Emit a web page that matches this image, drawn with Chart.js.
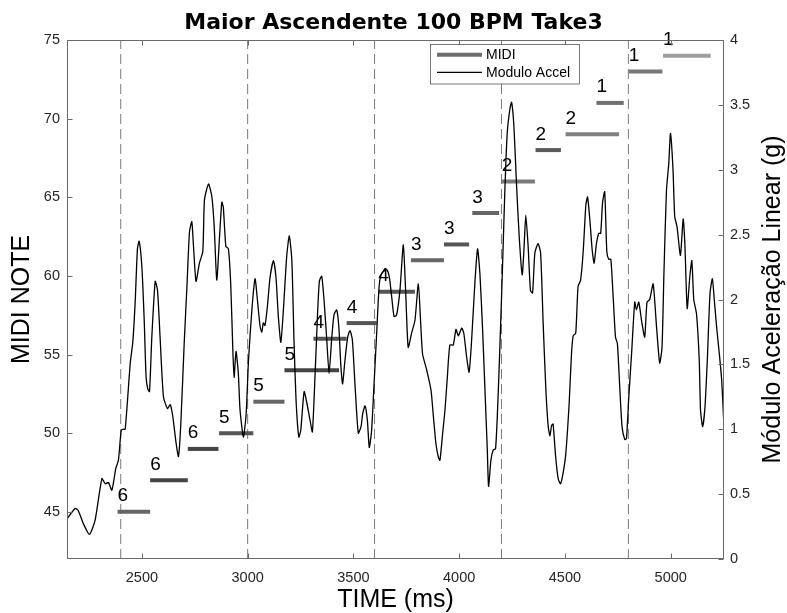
<!DOCTYPE html>
<html><head><meta charset="utf-8">
<script src="https://cdn.jsdelivr.net/npm/chart.js@4/dist/chart.umd.min.js"></script>
<style>html,body{margin:0;padding:0;background:#fff;}canvas{display:block;}</style>
</head><body>
<canvas id="c" width="787" height="613"></canvas>
<script>
const titleText = 'Maior Ascendente 100 BPM Take3';
const xTitle = 'TIME (ms)';
const leftTitle = 'MIDI NOTE';
const rightTitle = 'Módulo Aceleração Linear (g)';
const xTicks = [2500, 3000, 3500, 4000, 4500, 5000];
const midiTicks = [45, 50, 55, 60, 65, 70, 75];
const accelTicks = [0, 0.5, 1, 1.5, 2, 2.5, 3, 3.5, 4];
const beatTimes = [2400, 3000, 3600, 4200, 4800];

const noteStart = [2385, 2539, 2717, 2865, 3027, 3174, 3311, 3468, 3618, 3772, 3928, 4062, 4201, 4361, 4503, 4649, 4802, 4964];
const noteEnd   = [2539, 2717, 2862, 3027, 3174, 3432, 3468, 3610, 3791, 3928, 4047, 4189, 4358, 4481, 4756, 4778, 4961, 5189];
const noteValue = [45, 47, 49, 50, 52, 54, 56, 57, 59, 61, 62, 64, 66, 68, 69, 71, 73, 74];
const noteFinger = ['6','6','6','5','5','5','4','4','4','3','3','3','2','2','2','1','1','1'];
const noteShade = ['#666','#444','#444','#555','#666','#444','#555','#555','#555','#666','#555','#666','#7a7a7a','#5a5a5a','#808080','#707070','#777','#9e9e9e'];

const accelTime = [2146,2185,2200,2224,2252,2279,2311,2327,2342,2358,2377,2389,2402,2410,2421,2445,2457,2468,2479,2487,
2500,2511,2520,2528,2536,2547,2563,2574,2586,2602,2621,2634,2646,2662,2673,2684,2700,2713,2725,2736,
2744,2756,2772,2788,2796,2815,2831,2842,2854,2867,2878,2885,2897,2909,2920,2930,2936,2945,2956,2964,
2980,2993,3004,3020,3035,3046,3059,3067,3074,3082,3093,3106,3122,3134,3145,3157,3169,3185,3197,3209,
3219,3229,3242,3251,3267,3279,3295,3306,3319,3330,3339,3350,3361,3374,3385,3397,3408,3421,3431,3441,
3449,3460,3473,3484,3495,3508,3523,3536,3544,3555,3566,3575,3586,3597,3610,3622,3634,3657,3670,3681,
3692,3704,3720,3736,3748,3759,3775,3791,3807,3818,3827,3846,3867,3878,3890,3901,3909,3922,3933,3944,
3956,3972,3985,3996,4012,4022,4035,4047,4059,4074,4087,4098,4111,4122,4133,4139,4150,4161,4172,4182,
4193,4203,4216,4227,4240,4248,4259,4271,4284,4298,4307,4315,4326,4337,4347,4358,4373,4385,4397,4410,
4421,4429,4437,4444,4456,4468,4479,4491,4504,4520,4531,4539,4551,4562,4574,4586,4599,4607,4618,4629,
4638,4649,4660,4669,4678,4688,4698,4707,4717,4728,4739,4748,4759,4770,4783,4791,4802,4815,4830,4838,
4849,4862,4877,4888,4901,4917,4933,4948,4959,4968,4980,4991,4999,5011,5019,5030,5046,5059,5067,5078,
5090,5100,5109,5122,5135,5141,5151,5162,5173,5186,5197,5206,5217,5230,5241,5252];
const accelValue = [0.31,0.39,0.37,0.27,0.19,0.30,0.62,0.58,0.59,0.53,0.70,0.76,0.99,1.00,1.00,1.51,1.67,1.97,2.39,2.45,
2.25,1.84,1.40,1.31,1.29,1.71,2.14,2.07,1.71,1.25,1.16,1.19,1.10,0.89,0.79,1.04,1.66,2.10,2.52,2.60,
2.41,2.14,2.28,2.37,2.77,2.89,2.79,2.56,2.15,2.48,2.75,2.71,2.41,2.39,2.12,1.61,1.40,1.60,1.43,1.15,
0.94,1.12,1.53,1.92,2.16,2.00,1.79,1.75,1.82,1.80,1.94,2.17,2.30,2.17,1.87,1.67,1.92,2.34,2.49,2.30,
1.69,1.22,0.94,0.99,1.29,1.21,1.07,0.98,1.43,1.87,2.14,2.18,2.00,1.69,1.43,1.69,1.88,1.92,1.79,1.48,
1.35,1.53,1.71,1.76,1.69,1.33,0.97,1.02,1.12,1.18,1.07,0.86,0.99,1.33,1.74,2.11,2.20,2.23,2.17,2.02,
1.87,1.88,2.07,2.42,2.02,1.63,1.74,1.84,2.12,1.82,1.58,1.46,1.30,1.10,0.89,0.79,0.76,0.97,1.15,1.40,
1.65,1.65,1.77,1.72,1.78,1.74,1.56,1.44,1.69,2.12,2.39,2.20,1.76,1.30,0.84,0.56,0.76,0.84,0.85,1.17,
1.66,2.15,2.84,3.28,3.47,3.52,3.33,2.89,2.48,2.19,2.41,2.65,2.41,2.07,2.05,2.36,2.43,2.36,1.82,1.30,
1.02,0.95,1.03,1.04,0.79,0.62,0.58,0.66,0.81,1.20,1.58,1.72,1.74,2.10,2.15,2.36,2.73,2.79,2.61,2.38,
2.28,2.43,2.51,2.51,2.75,2.83,2.37,2.31,2.31,2.02,1.71,1.66,1.33,1.02,0.92,0.93,1.25,1.58,1.98,1.92,
1.98,1.84,1.71,1.98,2.00,2.12,1.79,1.51,1.63,2.20,2.84,3.05,3.28,3.00,2.64,2.56,2.34,2.62,2.43,1.93,
2.17,2.30,2.00,1.89,1.53,1.15,1.02,1.17,1.53,2.05,2.16,2.00,1.79,1.58,1.38,1.02];

const FONT = "'Liberation Sans', Arial, Helvetica, sans-serif";
const TFONT = "'DejaVu Sans', 'Liberation Sans', sans-serif";
const TXT = '#262626';

const midiPoints = [];
noteStart.forEach((s, i) => {
  midiPoints.push({x: s, y: noteValue[i]}, {x: noteEnd[i], y: noteValue[i]}, {x: noteEnd[i], y: null});
});
const beatPoints = [];
beatTimes.forEach(b => { beatPoints.push({x: b, y: 42}, {x: b, y: 75}, {x: b, y: null}); });
const accelPoints = accelTime.map((t, i) => ({x: t, y: accelValue[i]}));

const decor = {
  id: 'decor',
  afterDatasetsDraw(chart) {
    const ctx = chart.ctx, a = chart.chartArea;
    const sx = chart.scales.x, sy = chart.scales.y, sy2 = chart.scales.y2;
    ctx.save();
    // note finger labels
    ctx.fillStyle = '#000';
    ctx.font = '19px ' + FONT;
    ctx.textAlign = 'left';
    ctx.textBaseline = 'middle';
    noteStart.forEach((s, i) => {
      ctx.fillText(noteFinger[i], sx.getPixelForValue(s), sy.getPixelForValue(noteValue[i] + 1));
    });
    // frame
    ctx.strokeStyle = '#6a6a6a';
    ctx.lineWidth = 1;
    const L = Math.round(a.left) + 0.5, R = Math.round(a.right) - 0.5, T = Math.round(a.top) + 0.5, B = Math.round(a.bottom) - 0.5;
    ctx.strokeRect(L, T, R - L, B - T);
    // inside ticks
    ctx.beginPath();
    const tl = 5;
    sx.ticks.forEach(t => {
      const px = Math.round(sx.getPixelForValue(t.value)) + 0.5;
      ctx.moveTo(px, B); ctx.lineTo(px, B - tl);
      ctx.moveTo(px, T); ctx.lineTo(px, T + tl);
    });
    sy.ticks.forEach(t => {
      const py = Math.round(sy.getPixelForValue(t.value)) + 0.5;
      ctx.moveTo(L, py); ctx.lineTo(L + tl, py);
    });
    sy2.ticks.forEach(t => {
      const py = Math.round(sy2.getPixelForValue(t.value)) + 0.5;
      ctx.moveTo(R, py); ctx.lineTo(R - tl, py);
    });
    ctx.stroke();
    // legend
    const lx = 430.5, ly = 44.5, lw = 149, lh = 39.5;
    ctx.fillStyle = '#fff';
    ctx.fillRect(lx, ly, lw, lh);
    ctx.strokeStyle = '#555';
    ctx.lineWidth = 0.8;
    ctx.strokeRect(lx, ly, lw, lh);
    const ds = chart.data.datasets;
    const rows = [[ds[1], 54.7], [ds[0], 72.3]];
    rows.forEach(([d, y]) => {
      ctx.beginPath();
      ctx.strokeStyle = d.borderColor;
      ctx.lineWidth = d.borderWidth;
      ctx.moveTo(437, y); ctx.lineTo(482, y);
      ctx.stroke();
      ctx.fillStyle = '#000';
      ctx.font = '14px ' + FONT;
      ctx.textAlign = 'left';
      ctx.textBaseline = 'middle';
      ctx.fillText(d.label, 486, y + 0.5);
    });
    // right axis title (reads upward like MATLAB)
    ctx.translate(773, (a.top + a.bottom) / 2);
    ctx.rotate(-Math.PI / 2);
    ctx.fillStyle = '#000';
    ctx.font = '25px ' + FONT;
    ctx.textAlign = 'center';
    ctx.textBaseline = 'middle';
    ctx.fillText(rightTitle, 0, 0);
    ctx.restore();
  }
};

new Chart(document.getElementById('c'), {
  type: 'line',
  data: {
    datasets: [
      {label: 'Modulo Accel', data: accelPoints, yAxisID: 'y2', borderColor: '#000', borderWidth: 1.3,
       pointRadius: 0, tension: 0.2, order: 0},
      {label: 'MIDI', data: midiPoints, yAxisID: 'y', borderColor: '#6e6e6e', borderWidth: 4,
       pointRadius: 0, spanGaps: false, borderCapStyle: 'butt', order: 1,
       segment: {borderColor: c => noteShade[Math.floor(c.p0DataIndex / 3)]}},
      {label: 'beats', data: beatPoints, yAxisID: 'y', borderColor: '#7a7a7a', borderWidth: 1,
       borderDash: [10, 5], pointRadius: 0, spanGaps: false, order: 2}
    ]
  },
  options: {
    responsive: false, animation: false, devicePixelRatio: 1,
    layout: {padding: 0},
    plugins: {
      legend: {display: false}, tooltip: {enabled: false},
      title: {display: true, text: titleText, color: '#000',
        font: {family: TFONT, size: 22, weight: 'bold', lineHeight: 1.2},
        padding: {top: 10, bottom: 3.6}}
    },
    scales: {
      x: {type: 'linear', min: 2146, max: 5252,
        grid: {display: false, drawTicks: false}, border: {display: false},
        afterBuildTicks: s => { s.ticks = xTicks.map(v => ({value: v})); },
        afterFit: s => { s.height = 54; },
        ticks: {color: TXT, font: {family: FONT, size: 14.5}, padding: 10, maxRotation: 0, callback: v => String(v)},
        title: {display: true, text: xTitle, color: '#000', font: {family: FONT, size: 25, lineHeight: 1}, padding: {top: 0, bottom: 0}}
      },
      y: {type: 'linear', position: 'left', min: 42, max: 75,
        grid: {display: false, drawTicks: false}, border: {display: false},
        afterBuildTicks: s => { s.ticks = midiTicks.map(v => ({value: v})); },
        afterFit: s => { s.width = 67; },
        ticks: {color: TXT, font: {family: FONT, size: 14.5}, padding: 7, callback: v => String(v)},
        title: {display: true, text: leftTitle, color: '#000', font: {family: FONT, size: 25, lineHeight: 1}, padding: {top: 9.5, bottom: 0}}
      },
      y2: {type: 'linear', position: 'right', min: 0, max: 4,
        grid: {display: false, drawTicks: false}, border: {display: false},
        afterBuildTicks: s => { s.ticks = accelTicks.map(v => ({value: v})); },
        afterFit: s => { s.width = 63; },
        ticks: {color: TXT, font: {family: FONT, size: 14.5}, padding: 6, callback: v => String(v)}
      }
    }
  },
  plugins: [decor]
});
</script>
</body></html>
